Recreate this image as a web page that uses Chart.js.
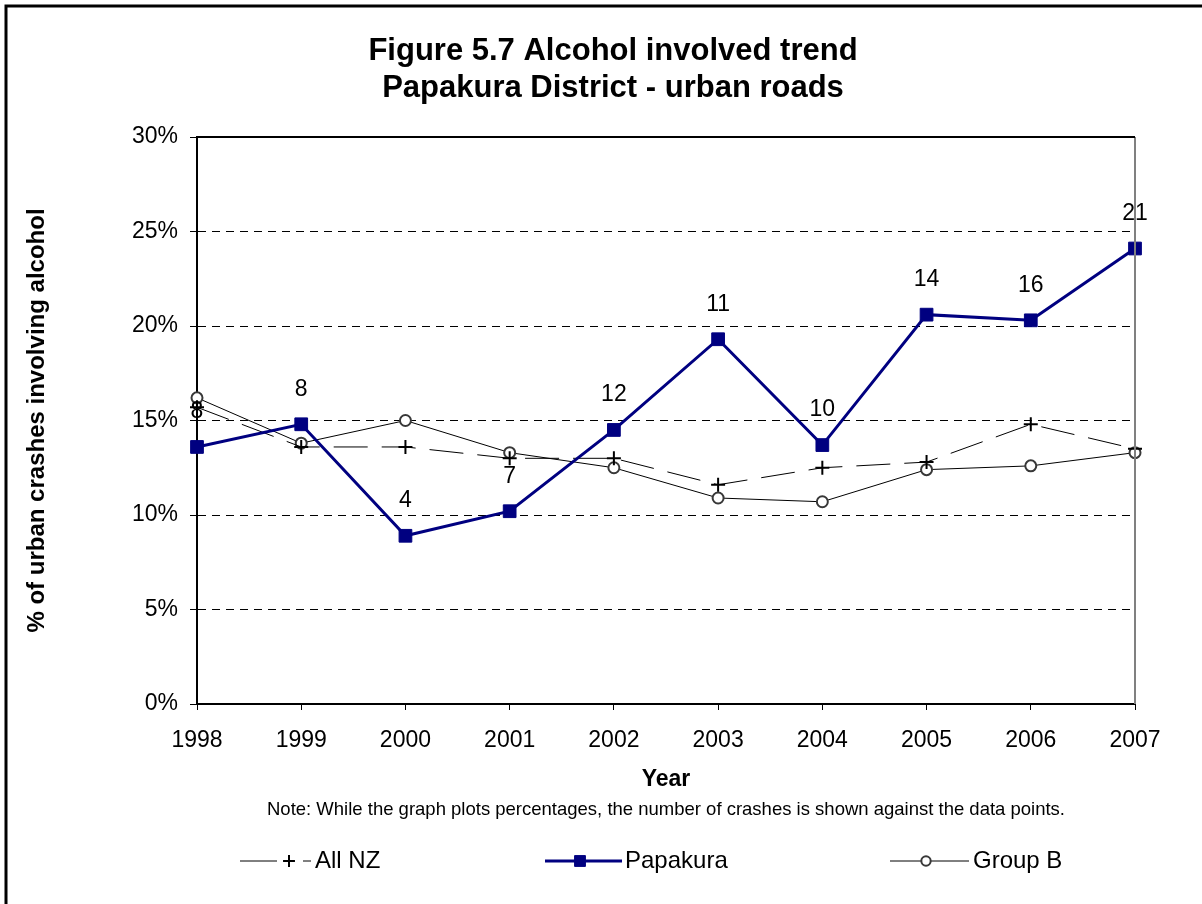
<!DOCTYPE html>
<html>

<head>
  <meta charset="utf-8">
  <title>Alcohol involved trend - Papakura</title>
  <style>
    body { margin: 0; background: #fff; }
    #wrap { width: 1202px; height: 904px; position: relative; }
  </style>
</head>

<body>
  <div id="wrap">
    <canvas id="mychart"></canvas>
  </div>

  <script src="https://cdn.jsdelivr.net/npm/chart.js"></script>

  <script>
    // dados
    const anos = ['1998', '1999', '2000', '2001', '2002', '2003', '2004', '2005', '2006', '2007'];
    const allNZ = [15.7, 13.6, 13.6, 13.0, 13.0, 11.6, 12.5, 12.8, 14.8, 13.5];
    const papakura = [13.6, 14.8, 8.9, 10.2, 14.5, 19.3, 13.7, 20.6, 20.3, 24.1];
    const grupoB = [16.2, 13.8, 15.0, 13.3, 12.5, 10.9, 10.7, 12.4, 12.6, 13.3];
    const nCrashes = [8, 8, 4, 7, 12, 11, 10, 14, 16, 21];
    const yTicks = [0, 5, 10, 15, 20, 25, 30];

    const tituloLinhas = ['Figure 5.7 Alcohol involved trend', 'Papakura District - urban roads'];
    const nota = 'Note: While the graph plots percentages, the number of crashes is shown against the data points.';

    const FONTE = 'Arial, "Liberation Sans", sans-serif';

    // textos, moldura, legenda e rótulos desenhados à mão
    const extras = {
      id: 'extras',
      afterDatasetsDraw(chart) {
        const ctx = chart.ctx;
        const meta = chart.getDatasetMeta(1);
        ctx.save();
        ctx.font = '23px ' + FONTE;
        ctx.fillStyle = '#000';
        ctx.textAlign = 'center';
        ctx.textBaseline = 'middle';
        meta.data.forEach((pt, i) => {
          ctx.fillText(String(nCrashes[i]), pt.x, pt.y - 35);
        });
        ctx.restore();
      },
      afterDraw(chart) {
        const ctx = chart.ctx;
        const area = chart.chartArea;
        ctx.save();

        // moldura da área do gráfico
        ctx.lineWidth = 2;
        ctx.strokeStyle = '#808080';
        ctx.beginPath();
        ctx.moveTo(area.right, area.top);
        ctx.lineTo(area.right, area.bottom);
        ctx.stroke();
        ctx.strokeStyle = '#000';
        ctx.beginPath();
        ctx.moveTo(area.left, area.top);
        ctx.lineTo(area.right, area.top);
        ctx.stroke();

        // borda externa
        ctx.lineWidth = 3;
        ctx.strokeStyle = '#000';
        ctx.strokeRect(6, 6, 1300, 1000);

        // título
        ctx.fillStyle = '#000';
        ctx.textAlign = 'center';
        ctx.textBaseline = 'middle';
        ctx.font = 'bold 31px ' + FONTE;
        ctx.fillText(tituloLinhas[0], 613, 51);
        ctx.fillText(tituloLinhas[1], 613, 88);

        // nota
        ctx.font = '18.5px ' + FONTE;
        ctx.fillText(nota, (area.left + area.right) / 2, 810);

        // legenda
        const ds = chart.data.datasets;
        const itens = [
          { d: ds[0], x0: 240, x1: 311, mx: 289, tx: 315 },
          { d: ds[1], x0: 545, x1: 622, mx: 580, tx: 625 },
          { d: ds[2], x0: 890, x1: 969, mx: 926, tx: 973 },
        ];
        const ly = 861;
        itens.forEach(it => {
          ctx.save();
          ctx.strokeStyle = it.d.borderColor;
          ctx.lineWidth = it.d.borderWidth;
          if (it.d.borderDash) {
            ctx.beginPath();
            ctx.moveTo(it.x0, ly); ctx.lineTo(it.mx - 12, ly);
            ctx.moveTo(it.mx + 14, ly); ctx.lineTo(it.x1, ly);
            ctx.stroke();
          } else {
            ctx.beginPath();
            ctx.moveTo(it.x0, ly); ctx.lineTo(it.x1, ly);
            ctx.stroke();
          }
          ctx.fillStyle = it.d.pointBackgroundColor || it.d.borderColor;
          ctx.strokeStyle = it.d.pointBorderColor;
          ctx.lineWidth = it.d.pointBorderWidth;
          ctx.setLineDash([]);
          Chart.helpers.drawPoint(ctx, {
            pointStyle: it.d.pointStyle,
            radius: it.d.pointRadius * 0.85,
            borderWidth: it.d.pointBorderWidth,
            rotation: 0
          }, it.mx, ly);
          ctx.restore();
          ctx.fillStyle = '#000';
          ctx.textAlign = 'left';
          ctx.font = '24px ' + FONTE;
          ctx.fillText(it.d.label, it.tx, ly);
        });

        ctx.restore();
      }
    };

    const ctx = document.getElementById('mychart').getContext('2d');

    const data = {
      labels: anos,
      datasets: [{
        label: 'All NZ',
        data: allNZ,
        borderColor: '#000000',
        backgroundColor: '#000000',
        borderWidth: 1,
        borderDash: [34, 14],
        pointStyle: 'cross',
        pointRadius: 7,
        pointBorderWidth: 2,
        pointBorderColor: '#000000',
        pointBackgroundColor: '#000000',
        tension: 0,
        order: 1,
      }, {
        label: 'Papakura',
        data: papakura,
        borderColor: '#000080',
        backgroundColor: '#000080',
        borderWidth: 3,
        pointStyle: 'rect',
        pointRadius: 9,
        pointBorderWidth: 1,
        pointBorderColor: '#000080',
        pointBackgroundColor: '#000080',
        tension: 0,
        order: 0,
      }, {
        label: 'Group B',
        data: grupoB,
        borderColor: '#000000',
        backgroundColor: '#ffffff',
        borderWidth: 1,
        pointStyle: 'circle',
        pointRadius: 5.5,
        pointBorderWidth: 2,
        pointBorderColor: '#383838',
        pointBackgroundColor: '#ffffff',
        tension: 0,
        order: 2,
      }],
    };

    const options = {
      responsive: true,
      maintainAspectRatio: false,
      animation: false,
      layout: {
        padding: { left: 10, right: 67, top: 137, bottom: 111 },
      },
      plugins: {
        legend: { display: false },
        title: { display: false },
        tooltip: { enabled: false },
      },
      scales: {
        x: {
          type: 'category',
          offset: false,
          grid: {
            drawOnChartArea: false,
            drawTicks: true,
            tickLength: 6,
            tickColor: '#000',
          },
          border: { display: true, color: '#000', width: 2 },
          ticks: {
            color: '#000',
            font: { family: FONTE, size: 23 },
            padding: 17,
            maxRotation: 0,
            autoSkip: false,
          },
          title: {
            display: true,
            text: 'Year',
            color: '#000',
            font: { family: FONTE, size: 23, weight: 'bold' },
            padding: { top: 0, bottom: 0 },
          },
          afterFit(scale) { scale.height = 89; },
        },
        y: {
          type: 'linear',
          min: 0,
          max: 30,
          grid: {
            color: (c) => (c.tick && (c.tick.value === 0 || c.tick.value === 30)) ? 'rgba(0,0,0,0)' : '#000',
            lineWidth: 1,
            tickLength: 7,
            tickColor: '#000',
          },
          border: { display: true, color: '#000', width: 2, dash: [8, 6] },
          afterBuildTicks(scale) {
            scale.ticks = yTicks.map(v => ({ value: v }));
          },
          ticks: {
            color: '#000',
            font: { family: FONTE, size: 23 },
            padding: 12,
            callback: (v) => v + '%',
          },
          title: {
            display: true,
            text: '% of urban crashes involving alcohol',
            color: '#000',
            font: { family: FONTE, size: 24, weight: 'bold' },
            padding: { top: 13, bottom: 0 },
          },
          afterFit(scale) { scale.width = 187; },
        },
      },
    };

    const myChart = new Chart(ctx, {
      type: 'line',
      data: data,
      options: options,
      plugins: [extras],
    });
  </script>
</body>

</html>
